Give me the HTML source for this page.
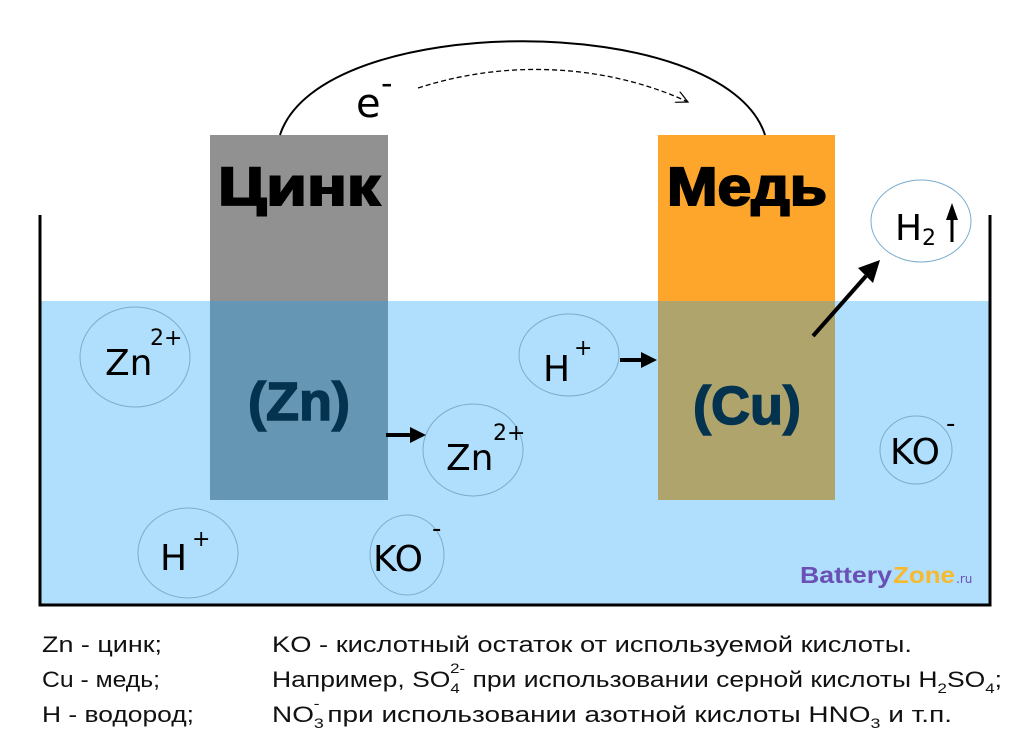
<!DOCTYPE html>
<html><head><meta charset="utf-8"><style>
html,body{margin:0;padding:0;background:#fff;}
svg{display:block;}
text{font-family:"DejaVu Sans","Liberation Sans",sans-serif;}
.b{font-family:"Liberation Sans","DejaVu Sans",sans-serif;font-weight:bold;}
.lg{font-family:"Liberation Sans","DejaVu Sans",sans-serif;font-size:22px;fill:#111;}
</style></head><body>
<svg width="1024" height="755" viewBox="0 0 1024 755" xmlns="http://www.w3.org/2000/svg">
<defs>
<marker id="oa" markerWidth="14" markerHeight="12" refX="12" refY="6" orient="auto" markerUnits="userSpaceOnUse"><path d="M0,0 L12,6 L0,12" fill="none" stroke="#000" stroke-width="1.2"/></marker>
</defs>
<rect x="40" y="301" width="950" height="304" fill="#afdffc"/>
<rect x="210" y="135" width="178" height="166" fill="#919191"/>
<rect x="210" y="301" width="178" height="199" fill="#6596b4"/>
<rect x="658" y="135" width="177" height="166" fill="#fea62b"/>
<rect x="658" y="301" width="177" height="199" fill="#aea46c"/>
<path d="M40,215 V605 H990 V215" fill="none" stroke="#000" stroke-width="3"/>
<path d="M280,135 C320,10 725,10 765,135" fill="none" stroke="#000" stroke-width="2"/>
<path d="M418,88 C520,55 620,70 688,102" fill="none" stroke="#000" stroke-width="1.3" stroke-dasharray="5,3" marker-end="url(#oa)"/>
<text x="356" y="117" font-size="40">e</text>
<text x="381" y="94" font-size="32">-</text>
<text x="299" y="205" text-anchor="middle" class="b" font-size="54" fill="#000" stroke="#000" stroke-width="2" textLength="162" lengthAdjust="spacingAndGlyphs">Цинк</text>
<text x="747" y="205" text-anchor="middle" class="b" font-size="54" fill="#000" stroke="#000" stroke-width="2" textLength="160" lengthAdjust="spacingAndGlyphs">Медь</text>
<text x="299" y="420" text-anchor="middle" class="b" font-size="54" fill="#04334f" stroke="#04334f" stroke-width="1.5">(Zn)</text>
<text x="747" y="424" text-anchor="middle" class="b" font-size="54" fill="#04334f" stroke="#04334f" stroke-width="1.5">(Cu)</text>
<g fill="none" stroke="#7aaccc" stroke-width="1">
<ellipse cx="135" cy="357" rx="55" ry="50"/>
<ellipse cx="569" cy="355" rx="50" ry="41"/>
<ellipse cx="473" cy="450" rx="50" ry="46"/>
<ellipse cx="188" cy="553" rx="50" ry="45"/>
<ellipse cx="407" cy="555" rx="37" ry="40"/>
<ellipse cx="916" cy="450" rx="36" ry="34"/>
<ellipse cx="921" cy="221" rx="50" ry="41"/>
</g>
<g font-size="36" fill="#000">
<text x="105" y="375">Zn</text><text x="150" y="345" font-size="22">2+</text>
<text x="543" y="381">H</text><text x="574" y="355" font-size="22">+</text>
<text x="446" y="470">Zn</text><text x="493" y="440" font-size="22">2+</text>
<text x="160" y="570">H</text><text x="192" y="546" font-size="22">+</text>
<text x="373" y="571">KO</text><text x="432" y="537" font-size="26">-</text>
<text x="890" y="464">KO</text><text x="946" y="432" font-size="26">-</text>
<text x="895" y="240">H</text><text x="922" y="245" font-size="22">2</text>
</g>
<path d="M952,242 V218" stroke="#000" stroke-width="3"/><path d="M946,220 L952,203 L958,220 z" fill="#000"/>
<g stroke="#000" stroke-width="4" fill="none">
<path d="M386,435 H412"/><path d="M620,360 H643"/><path d="M813,336 L866,276"/>
</g>
<path d="M410,427 L426,435 L410,443 z" fill="#000"/>
<path d="M641,352 L657,360 L641,368 z" fill="#000"/>
<path d="M858,268 L880,260 L873,283 z" fill="#000"/>
<text x="800" y="583" font-size="23" class="b" fill="#6a4fb5" textLength="92" lengthAdjust="spacingAndGlyphs">Battery</text>
<text x="893" y="583" font-size="23" class="b" fill="#f7b92e" textLength="62" lengthAdjust="spacingAndGlyphs">Zone</text>
<text x="956" y="583" font-size="12" fill="#6a4fb5">.ru</text>
<text class="lg" x="42" y="652" textLength="120" lengthAdjust="spacingAndGlyphs">Zn - цинк;</text>
<text class="lg" x="42" y="687" textLength="118" lengthAdjust="spacingAndGlyphs">Cu - медь;</text>
<text class="lg" x="42" y="722" textLength="152" lengthAdjust="spacingAndGlyphs">H - водород;</text>
<text class="lg" x="272" y="652" textLength="640" lengthAdjust="spacingAndGlyphs">KO - кислотный остаток от используемой кислоты.</text>
<text class="lg" x="272" y="687" textLength="730" lengthAdjust="spacingAndGlyphs">Например, SO<tspan font-size="14" dy="6">4</tspan><tspan font-size="14" dx="-8" dy="-20">2-</tspan><tspan dy="14"> при использовании серной кислоты H</tspan><tspan font-size="14" dy="6">2</tspan><tspan dy="-6">SO</tspan><tspan font-size="14" dy="6">4</tspan><tspan dy="-6">;</tspan></text>
<text class="lg" x="272" y="722" textLength="680" lengthAdjust="spacingAndGlyphs">NO<tspan font-size="14" dy="6">3</tspan><tspan font-size="14" dx="-8" dy="-20">-</tspan><tspan dy="14">  при использовании азотной кислоты HNO</tspan><tspan font-size="14" dy="6">3</tspan><tspan dy="-6">   и т.п.</tspan></text>
</svg>
</body></html>
